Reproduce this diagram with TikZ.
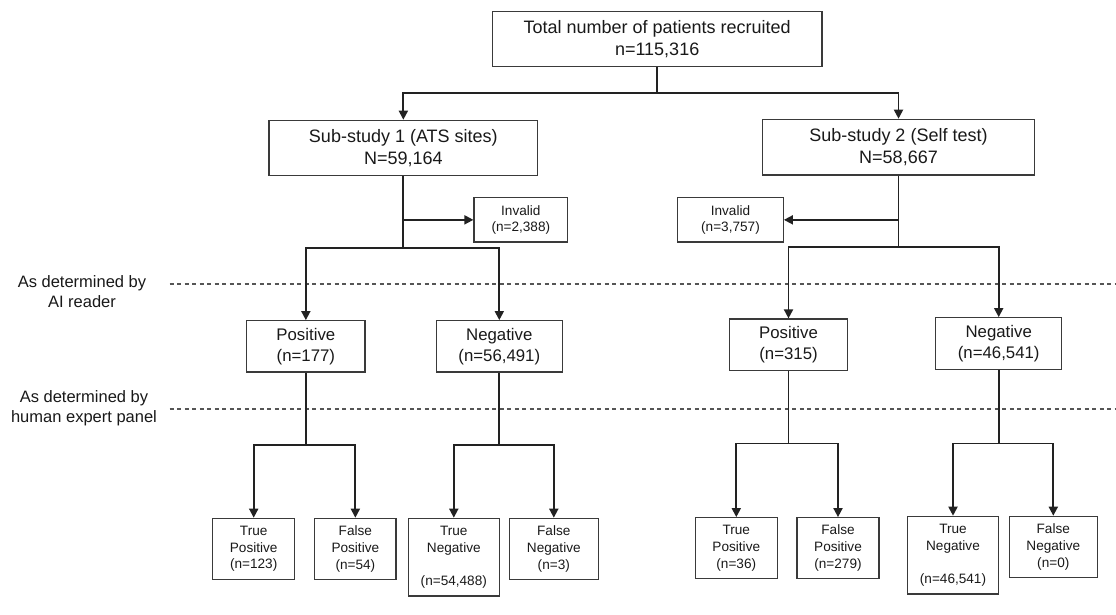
\documentclass[tikz,border=0pt]{standalone}
\usepackage{fontspec}
\setmainfont{Liberation Sans}
\usetikzlibrary{arrows.meta}
\definecolor{lineclr}{HTML}{222222}
\definecolor{boxclr}{HTML}{3A3A3A}
\definecolor{dashclr}{HTML}{555555}
\tikzset{
  box/.style={draw=boxclr, line width=1.2pt, inner sep=0pt, align=center, text=black!90},
  bigbox/.style={box, font=\fontsize{18}{22}\selectfont},
  midbox/.style={box, font=\fontsize{16.8}{20.6}\selectfont},
  leafbox/.style={box, font=\fontsize{13.6}{16.8}\selectfont},
  invbox/.style={box, font=\fontsize{13.6}{16.5}\selectfont},
  sidelabel/.style={align=center, inner sep=0pt, font=\fontsize{16.5}{20}\selectfont, text=black!90},
  conn/.style={draw=lineclr, line width=1.8pt},
  arr/.style={conn, -{Triangle[length=9pt,width=9pt]}},
  dashline/.style={draw=dashclr, line width=1.2pt, dash pattern=on 4pt off 3.5pt}
}
\begin{document}
\begin{tikzpicture}[x=1pt,y=-1pt]
\useasboundingbox (0,0) rectangle (1116,614);

% top
\node[bigbox, minimum width=329.7pt, minimum height=55pt] (total) at (657.15,39.2) {Total number of patients recruited\\n=115,316};
\node[bigbox, minimum width=268.7pt, minimum height=55.4pt] (sub1) at (403.35,148) {Sub-study 1 (ATS sites)\\N=59,164};
\node[bigbox, minimum width=271.6pt, minimum height=55.7pt] (sub2) at (898.5,147.15) {Sub-study 2 (Self test)\\N=58,667};

% invalid
\node[invbox, minimum width=93.7pt, minimum height=44.3pt] (inv1) at (520.85,219.85) {Invalid\\(n=2,388)};
\node[invbox, minimum width=105.6pt, minimum height=44.3pt] (inv2) at (730.5,219.85) {Invalid\\(n=3,757)};

% AI reader level
\node[midbox, minimum width=118.3pt, minimum height=51.3pt] (pos1) at (305.85,346.35) {Positive\\(n=177)};
\node[midbox, minimum width=126pt, minimum height=51.3pt] (neg1) at (499.3,346.35) {Negative\\(n=56,491)};
\node[midbox, minimum width=118.4pt, minimum height=51.7pt] (pos2) at (788.5,344.85) {Positive\\(n=315)};
\node[midbox, minimum width=126pt, minimum height=52pt] (neg2) at (998.7,343.7) {Negative\\(n=46,541)};

% leaves
\node[leafbox, minimum width=82pt, minimum height=61pt] (tp1) at (253.7,548.8) {True\\Positive\\(n=123)};
\node[leafbox, minimum width=81.3pt, minimum height=61pt] (fp1) at (355.35,548.8) {False\\Positive\\(n=54)};
\node[leafbox, minimum width=91pt, minimum height=77.7pt] (tn1) at (453.8,557.15) {True\\Negative\\\mbox{}\\(n=54,488)};
\node[leafbox, minimum width=89pt, minimum height=61pt] (fn1) at (553.8,548.8) {False\\Negative\\(n=3)};
\node[leafbox, minimum width=82pt, minimum height=60.6pt] (tp2) at (736.3,548) {True\\Positive\\(n=36)};
\node[leafbox, minimum width=82pt, minimum height=60.6pt] (fp2) at (838,548) {False\\Positive\\(n=279)};
\node[leafbox, minimum width=90.6pt, minimum height=77.7pt] (tn2) at (953,555.15) {True\\Negative\\\mbox{}\\(n=46,541)};
\node[leafbox, minimum width=88pt, minimum height=61pt] (fn2) at (1053.3,546.8) {False\\Negative\\(n=0)};

% side labels
\node[sidelabel] (lab1) at (82,292) {As determined by\\AI reader};
\node[sidelabel] (lab2) at (84,408) {As determined by\\human expert panel};

% dashed level lines
\coordinate (d1s) at (169.6,284);
\coordinate (d1e) at (1116,284);
\coordinate (d2s) at (169.6,409);
\coordinate (d2e) at (1116,409);
\draw[dashline] (d1s) -- (d1e);
\draw[dashline] (d2s) -- (d2e);

% junctions
\coordinate (j0) at (657.15,93.3);
\coordinate (j1) at (403.35,248);
\coordinate (j2) at (898.5,247);
\coordinate (jp1) at (305.85,445);
\coordinate (jn1) at (499.3,445);
\coordinate (jp2) at (788.5,443.5);
\coordinate (jn2) at (998.7,443.5);

% connectors
\draw[conn] (total.south) -- (j0);
\draw[arr] (j0) -| (sub1.north);
\draw[arr] (j0) -| (sub2.north);

\draw[conn] (sub1.south) -- (j1);
\draw[arr] (sub1.south |- inv1.west) -- (inv1.west);
\draw[arr] (j1) -| (pos1.north);
\draw[arr] (j1) -| (neg1.north);

\draw[conn] (sub2.south) -- (j2);
\draw[arr] (sub2.south |- inv2.east) -- (inv2.east);
\draw[arr] (j2) -| (pos2.north);
\draw[arr] (j2) -| (neg2.north);

\draw[conn] (pos1.south) -- (jp1);
\draw[arr] (jp1) -| (tp1.north);
\draw[arr] (jp1) -| (fp1.north);
\draw[conn] (neg1.south) -- (jn1);
\draw[arr] (jn1) -| (tn1.north);
\draw[arr] (jn1) -| (fn1.north);

\draw[conn] (pos2.south) -- (jp2);
\draw[arr] (jp2) -| (tp2.north);
\draw[arr] (jp2) -| (fp2.north);
\draw[conn] (neg2.south) -- (jn2);
\draw[arr] (jn2) -| (tn2.north);
\draw[arr] (jn2) -| (fn2.north);
\end{tikzpicture}
\end{document}
